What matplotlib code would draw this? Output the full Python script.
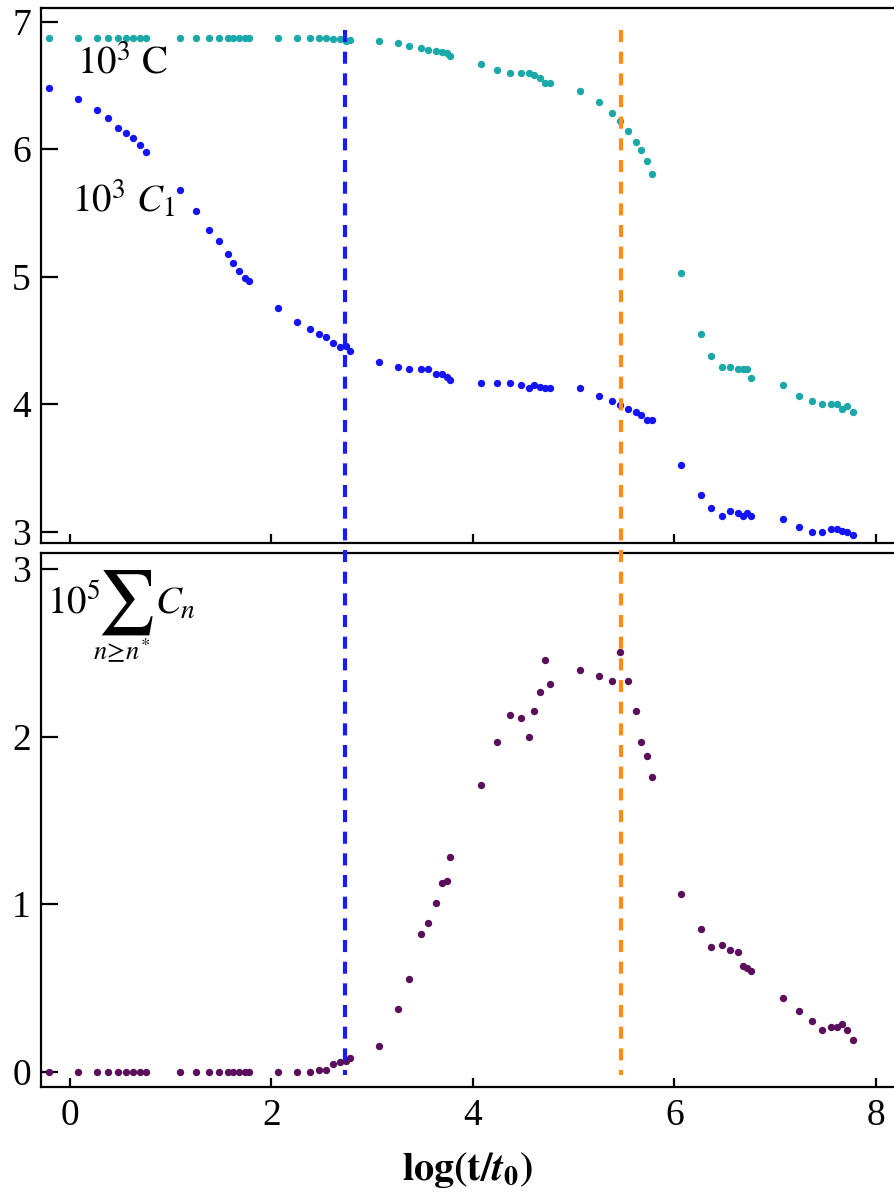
import matplotlib
matplotlib.use("Agg")
import matplotlib.pyplot as plt
from matplotlib.lines import Line2D

plt.rcParams['font.family'] = ['Liberation Serif', 'DejaVu Serif']
plt.rcParams['mathtext.fontset'] = 'stix'

# ---- data ----
log_t = [-0.21, 0.08, 0.27, 0.38, 0.48, 0.56, 0.63, 0.70, 0.76,
         1.09, 1.25, 1.38, 1.48, 1.57, 1.62, 1.68, 1.74, 1.78,
         2.07, 2.25, 2.38, 2.47, 2.54, 2.61, 2.68, 2.74, 2.78,
         3.07, 3.26, 3.37, 3.48, 3.55, 3.63, 3.69, 3.74, 3.77,
         4.08, 4.24, 4.37, 4.48, 4.56, 4.61, 4.67, 4.72, 4.77,
         5.06, 5.25, 5.38, 5.46, 5.54, 5.62, 5.67, 5.73, 5.78,
         6.07, 6.26, 6.36, 6.47, 6.55, 6.63, 6.68, 6.72, 6.76,
         7.08, 7.24, 7.37, 7.47, 7.55, 7.61, 7.66, 7.71, 7.77]

C_total = [6.87, 6.87, 6.87, 6.87, 6.87, 6.87, 6.87, 6.87, 6.87,
           6.87, 6.87, 6.87, 6.87, 6.87, 6.87, 6.87, 6.87, 6.87,
           6.87, 6.87, 6.87, 6.87, 6.87, 6.865, 6.86, 6.85, 6.855,
           6.85, 6.83, 6.81, 6.79, 6.78, 6.77, 6.76, 6.75, 6.73,
           6.666, 6.62, 6.60, 6.60, 6.60, 6.58, 6.56, 6.52, 6.52,
           6.456, 6.37, 6.286, 6.22, 6.14, 6.056, 5.994, 5.907, 5.805,
           5.03, 4.548, 4.378, 4.294, 4.294, 4.274, 4.274, 4.274, 4.208,
           4.148, 4.064, 4.023, 4.001, 4.001, 4.0, 3.96, 3.986, 3.94]

C_1 = [6.478, 6.394, 6.307, 6.247, 6.164, 6.125, 6.085, 6.033, 5.98,
       5.68, 5.515, 5.366, 5.282, 5.178, 5.105, 5.047, 4.987, 4.966,
       4.757, 4.647, 4.59, 4.55, 4.53, 4.48, 4.446, 4.456, 4.42,
       4.333, 4.289, 4.274, 4.274, 4.274, 4.237, 4.237, 4.216, 4.19,
       4.169, 4.169, 4.169, 4.148, 4.125, 4.148, 4.133, 4.125, 4.125,
       4.13, 4.064, 4.023, 3.994, 3.96, 3.94, 3.918, 3.876, 3.876,
       3.52, 3.288, 3.184, 3.121, 3.162, 3.144, 3.125, 3.144, 3.121,
       3.102, 3.04, 2.995, 2.995, 3.019, 3.019, 3.008, 2.995, 2.974]

C_large = [0, 0, 0, 0, 0, 0, 0, 0, 0,
           0, 0, 0, 0, 0, 0, 0, 0, 0,
           0, 0, 0, 0.01, 0.01, 0.044, 0.056, 0.065, 0.083,
           0.155, 0.377, 0.551, 0.823, 0.886, 1.01, 1.124, 1.14, 1.284,
           1.712, 1.968, 2.127, 2.109, 2.0, 2.156, 2.267, 2.46, 2.317,
           2.396, 2.364, 2.333, 2.507, 2.333, 2.156, 1.968, 1.887, 1.76,
           1.06, 0.854, 0.743, 0.759, 0.727, 0.712, 0.632, 0.617, 0.600,
           0.442, 0.363, 0.30, 0.252, 0.268, 0.268, 0.284, 0.252, 0.188]

vlines_x = [2.73, 5.47]
vline_colors = ['#1a1aff', '#ff8c1a']

top_yticks = [3, 4, 5, 6, 7]
bot_yticks = [0, 1, 2, 3]
xticks = [0, 2, 4, 6, 8]

# ---- figure ----
W, H = 895, 1201
fig = plt.figure(figsize=(W / 100, H / 100), dpi=100)

left = 40.7 / W
right = 1.0
ax1 = fig.add_axes([left, 1 - 542.7 / H, right - left, (542.7 - 7.5) / H])
ax2 = fig.add_axes([left, 1 - 1087.3 / H, right - left, (1087.3 - 553.3) / H])

xlim = (-0.29, 8.19)
ax1.set_xlim(*xlim)
ax2.set_xlim(*xlim)
ax1.set_ylim(2.914, 7.11)
ax2.set_ylim(-0.093, 3.095)

ms = 5.3
ax1.plot(log_t, C_total, 'o', color='#1aa8a8', ms=ms, mew=0, zorder=2)
ax1.plot(log_t, C_1, 'o', color='#1414f5', ms=ms, mew=0, zorder=2)
ax2.plot(log_t, C_large, 'o', color='#5a0f5a', ms=ms, mew=0, zorder=2)

for ax, yt in ((ax1, top_yticks), (ax2, bot_yticks)):
    ax.set_yticks(yt)
    ax.set_xticks(xticks)
    ax.spines['right'].set_visible(False)
    for s in ('left', 'top', 'bottom'):
        ax.spines[s].set_linewidth(1.6)
    ax.tick_params(axis='y', direction='in', length=12.5, width=1.6,
                   labelsize=27, pad=7)
    ax.tick_params(axis='x', direction='in', length=6.5, width=1.6,
                   labelsize=27, pad=8)

ax1.tick_params(axis='x', labelbottom=False)
ax2.set_xlabel(r'$\mathbf{log(t/}\mathbfit{t}_{\mathbf{0}}\mathbf{)}$',
               fontsize=29, labelpad=12)

# annotations
ax1.text(0.07, 6.59, r'$10^3\ \mathrm{C}$', fontsize=28, va='baseline', ha='left')
ax1.text(0.02, 5.51, r'$10^3\ C_1$', fontsize=28, va='baseline', ha='left')
ax2.text(-0.228, 2.735, r'$10^5$', fontsize=28, va='baseline', ha='left')
ax2.text(0.551, 2.80, r'$\sum$', fontsize=46, va='center', ha='center')
ax2.text(0.844, 2.735, r'$C_n$', fontsize=28, va='baseline', ha='left')
ax2.text(0.513, 2.46, r'$n\!\geq\! n^{*}$', fontsize=19, va='baseline', ha='center')

# vertical dashed lines spanning both panels
inv = fig.transFigure.inverted()
for xv, col in zip(vlines_x, vline_colors):
    x_fig, y_top = inv.transform(ax1.transData.transform((xv, 6.935)))
    _, y_bot = inv.transform(ax2.transData.transform((xv, -0.02)))
    ln = Line2D([x_fig, x_fig], [y_top, y_bot], transform=fig.transFigure,
                color=col, lw=3.0, dashes=(2.9, 2.3), zorder=5)
    fig.add_artist(ln)

fig.savefig('out.png', dpi=100)
